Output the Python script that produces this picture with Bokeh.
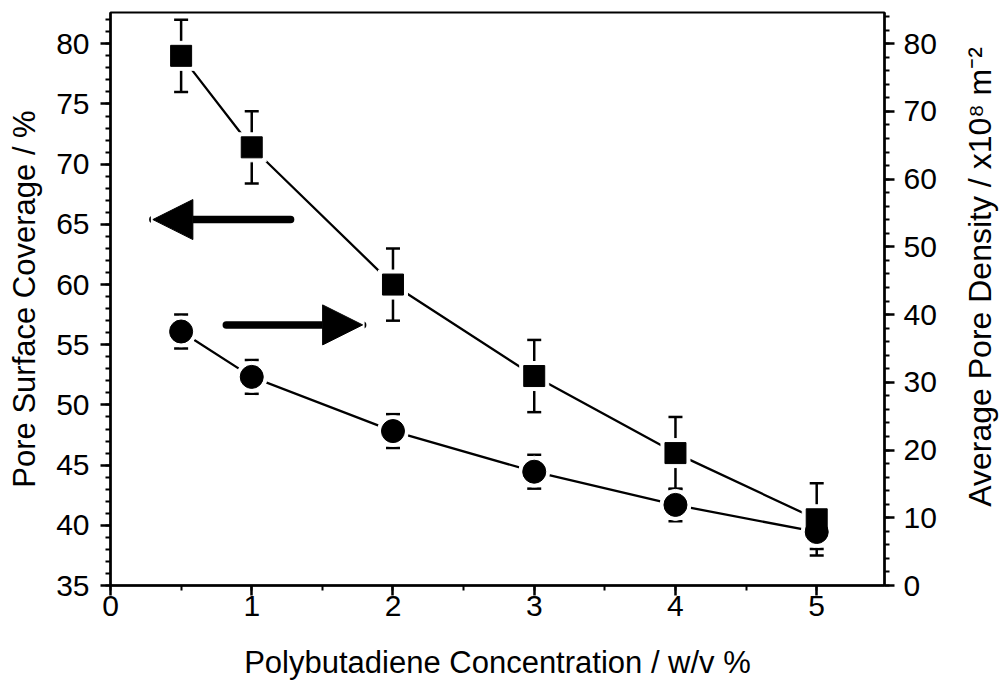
import math
from bokeh.plotting import figure
from bokeh.layouts import row
from bokeh.models import (ColumnDataSource, Range1d, LinearAxis, Whisker, TeeHead,
                          Arrow, NormalHead, Label, SingleIntervalTicker)
from bokeh.embed import file_html
from bokeh.resources import INLINE

# ---------------- data ----------------
conc = [0.5, 1, 2, 3, 4, 5]
coverage = [79.0, 71.4, 60.0, 52.4, 46.0, 40.5]
coverage_err = [3.0, 3.0, 3.0, 3.0, 3.0, 3.0]
density = [37.5, 30.8, 22.8, 16.8, 11.9, 7.9]
density_err = [2.5, 2.5, 2.5, 2.5, 2.4, 2.5]

x_label = "Polybutadiene Concentration / w/v %"
left_label = "Pore Surface Coverage / %"
right_label = "Average Pore Density / x10\u2078 m\u207b\u00b2"

FONT = "Liberation Sans"
MAIN_W, SIDE_W, H = 955, 45, 687

# ---------------- main figure ----------------
p = figure(width=MAIN_W, height=H,
           x_range=Range1d(0, 5.48), y_range=Range1d(35, 82.6),
           output_backend="svg", toolbar_location=None,
           min_border_left=110, min_border_right=71,
           min_border_top=12, min_border_bottom=102)
p.extra_y_ranges = {"right": Range1d(0, 84.6)}
p.add_layout(LinearAxis(y_range_name="right"), "right")

p.xgrid.visible = False
p.ygrid.visible = False
p.outline_line_color = "black"
p.outline_line_width = 2
p.outline_line_alpha = 1
p.background_fill_color = "white"
p.border_fill_color = "white"

p.xaxis.ticker = SingleIntervalTicker(interval=1, num_minor_ticks=2)
p.yaxis[0].ticker = SingleIntervalTicker(interval=5, num_minor_ticks=5)
p.yaxis[1].ticker = SingleIntervalTicker(interval=10, num_minor_ticks=5)

for ax in [p.xaxis[0], p.yaxis[0], p.yaxis[1]]:
    ax.axis_line_width = 2.5
    ax.axis_line_color = "black"
    ax.major_tick_line_width = 2.5
    ax.minor_tick_line_width = 2
    ax.major_tick_line_color = "black"
    ax.minor_tick_line_color = "black"
    ax.major_tick_out = 10
    ax.major_tick_in = 0
    ax.minor_tick_out = 5
    ax.minor_tick_in = 0
    ax.major_label_text_font = FONT
    ax.major_label_text_font_size = "30px"
    ax.major_label_text_color = "black"
    ax.axis_label_text_font = FONT
    ax.axis_label_text_font_size = "31px"
    ax.axis_label_text_font_style = "normal"
    ax.axis_label_text_color = "black"

p.xaxis.axis_label = x_label
p.xaxis.major_label_standoff = 0
p.xaxis.axis_label_standoff = 26
p.yaxis[0].axis_label = left_label
p.yaxis[0].major_label_standoff = 11
p.yaxis[0].axis_label_standoff = 11
p.yaxis[1].major_label_standoff = 9

# ---------------- data marks ----------------
src_cov = ColumnDataSource(dict(
    x=conc, y=coverage,
    upper=[v + e for v, e in zip(coverage, coverage_err)],
    lower=[v - e for v, e in zip(coverage, coverage_err)]))
src_den = ColumnDataSource(dict(
    x=conc, y=density,
    upper=[v + e for v, e in zip(density, density_err)],
    lower=[v - e for v, e in zip(density, density_err)]))

p.line("x", "y", source=src_cov, line_width=2.3, line_color="black")
p.line("x", "y", source=src_den, y_range_name="right", line_width=2.3, line_color="black")

# white halos to create gaps between lines and markers
p.scatter("x", "y", source=src_cov, marker="square", size=29, color="white")
p.scatter("x", "y", source=src_den, y_range_name="right", marker="circle", size=31, color="white")

p.scatter("x", "y", source=src_cov, marker="square", size=21, color="black")
p.scatter("x", "y", source=src_den, y_range_name="right", marker="circle", size=23, color="black")

for src, rng in [(src_cov, "default"), (src_den, "right")]:
    w = Whisker(base="x", upper="upper", lower="lower", source=src,
                line_width=2.5, line_color="black",
                upper_head=TeeHead(size=14, line_width=2.5, line_color="black"),
                lower_head=TeeHead(size=14, line_width=2.5, line_color="black"))
    if rng != "default":
        w.y_range_name = rng
    p.add_layout(w)

# ---------------- arrows ----------------
ARROW_LEFT = dict(x_start=1.275, y_start=65.4, x_end=0.30, y_end=65.4)
ARROW_RIGHT = dict(x_start=0.82, y_start=56.65, x_end=1.785, y_end=56.65)
for a in [ARROW_LEFT, ARROW_RIGHT]:
    p.add_layout(Arrow(end=NormalHead(size=40, fill_color="black", line_color="black", line_width=1),
                       start=None, line_width=7.5, line_color="black", line_cap="round", **a))

# ---------------- right axis title (narrow side panel) ----------------
q = figure(width=SIDE_W, height=H, x_range=Range1d(0, SIDE_W), y_range=Range1d(0, H),
           output_backend="svg", toolbar_location=None,
           x_axis_location=None, y_axis_location=None,
           min_border_left=0, min_border_right=0, min_border_top=0, min_border_bottom=0)
q.grid.visible = False
q.outline_line_color = None
q.background_fill_color = "white"
q.border_fill_color = "white"
q.add_layout(Label(x=24, y=370, text=right_label, angle=math.pi / 2,
                   text_align="center", text_baseline="middle",
                   text_font=FONT, text_font_size="32px", text_color="black"))

layout = row(p, q, spacing=0)
open("out.html", "w").write(file_html(layout, INLINE))
